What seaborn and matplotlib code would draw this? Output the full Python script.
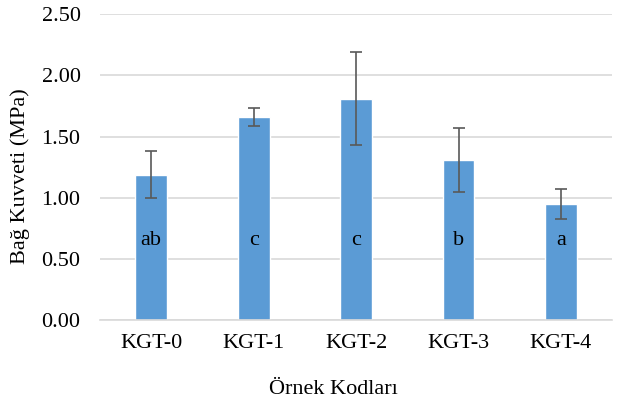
import matplotlib
matplotlib.use("Agg")
import matplotlib.pyplot as plt
import seaborn as sns
import pandas as pd

# Sample codes, mean bond strength, standard deviation and significance groups
categories = ["KGT-0", "KGT-1", "KGT-2", "KGT-3", "KGT-4"]
means = [1.19, 1.66, 1.81, 1.31, 0.95]
errors = [0.19, 0.07, 0.38, 0.26, 0.12]
groups = ["ab", "c", "c", "b", "a"]
y_ticks = [0.0, 0.5, 1.0, 1.5, 2.0, 2.5]

sns.set_theme(style="white")
plt.rcParams["font.family"] = ["Liberation Serif", "DejaVu Serif"]

df = pd.DataFrame({"Kod": categories, "Kuvvet": means})

fig = plt.figure(figsize=(6.19, 4.05), dpi=100)
ax = fig.add_axes([0.1616, 0.2091, 0.8274, 0.7563])

sns.barplot(data=df, x="Kod", y="Kuvvet", color="#5B9BD5", saturation=1,
            width=0.31, errorbar=None, ax=ax, zorder=2)

ax.errorbar(range(len(categories)), means, yerr=errors, fmt="none",
            ecolor="#595959", elinewidth=1.2, capsize=4, capthick=1.2, zorder=3)

fs = 16
for i, g in enumerate(groups):
    ax.text(i, 0.655, g, ha="center", va="center", fontsize=fs, color="#000000", zorder=4)

ax.set_ylim(0, 2.5)
ax.set_xlim(-0.5, len(categories) - 0.5)
ax.set_yticks(y_ticks)
ax.set_yticklabels([f"{v:.2f}" for v in y_ticks])
ax.yaxis.grid(True, color="#d9d9d9", linewidth=1.2, zorder=0)
ax.set_axisbelow(True)

for side in ["top", "right", "left"]:
    ax.spines[side].set_visible(False)
ax.spines["bottom"].set_color("#d9d9d9")
ax.spines["bottom"].set_linewidth(1.2)

ax.tick_params(axis="y", length=0, pad=14, labelsize=fs, labelcolor="#000000")
ax.tick_params(axis="x", length=0, pad=10, labelsize=fs, labelcolor="#000000")

ax.set_xlabel("Örnek Kodları", fontsize=fs, color="#000000")
ax.set_ylabel("Bağ Kuvveti (MPa)", fontsize=fs, color="#000000")
ax.xaxis.set_label_coords(0.455, -0.195)
ax.yaxis.set_label_coords(-0.137, 0.47)

fig.savefig("out.png", dpi=100)
